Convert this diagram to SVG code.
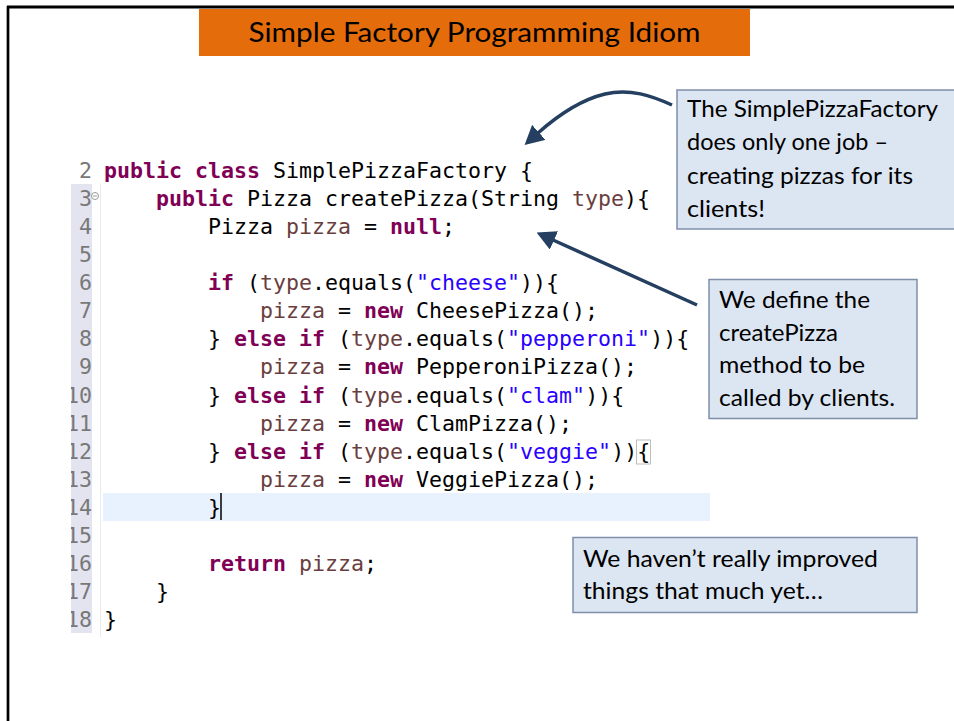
<svg xmlns="http://www.w3.org/2000/svg" width="954" height="721" viewBox="0 0 954 721">
<style>
.code{font-family:"DejaVu Sans Mono","Liberation Mono",monospace;font-size:21.6px;fill:#000}
.k{font-weight:bold;fill:#7F0055}
.v{fill:#6A3E3E}
.s{fill:#2A00FF}
.ln{font-family:"DejaVu Sans Mono","Liberation Mono",monospace;font-size:21.6px;fill:#787878;text-anchor:end}
.note rect{fill:#DCE6F2;stroke:#7F8FA9;stroke-width:1.5}
.note text{font-family:Lato,"Open Sans",sans-serif;font-size:24px;fill:#000}
.conn{fill:none;stroke:#243F60;stroke-width:3.5}
</style>
<defs>
<marker id="head" viewBox="0 0 19 20" refX="1" refY="10" markerWidth="19" markerHeight="20" markerUnits="userSpaceOnUse" orient="auto">
<path d="M0,0 L19,10 L0,20 Z" fill="#243F60"/>
</marker>
<clipPath id="gutterClip"><rect x="71" y="0" width="40" height="721"/></clipPath>
</defs>
<rect x="0" y="0" width="954" height="721" fill="#fff"/>
<g id="frame">
<line x1="7" y1="7" x2="954" y2="7" stroke="#000" stroke-width="3"/>
<line x1="8" y1="6" x2="8" y2="721" stroke="#000" stroke-width="2.7"/>
</g>
<g id="title">
<rect x="199" y="9" width="551" height="47" fill="#E46C0A"/>
<text x="474.5" y="42" text-anchor="middle" font-family="Lato,'Open Sans',sans-serif" font-size="27" fill="#000" textLength="452" lengthAdjust="spacingAndGlyphs">Simple Factory Programming Idiom</text>
</g>
<g id="editor">
<rect x="71" y="184" width="21" height="449" fill="#E4E4F0"/>
<line x1="100.5" y1="184" x2="100.5" y2="637" stroke="#EBEBEB" stroke-width="1"/>
<rect x="103" y="493" width="607" height="28" fill="#E8F2FE"/>
<circle cx="95" cy="196" r="3.5" fill="#fff" stroke="#9A9A9A" stroke-width="1"/>
<line x1="93" y1="196" x2="97" y2="196" stroke="#9A9A9A" stroke-width="1"/>
<rect x="636.5" y="440" width="14" height="24" fill="none" stroke="#BDBDBD" stroke-width="1"/>
<line x1="221" y1="493" x2="221" y2="520" stroke="#000" stroke-width="1.5"/>
<g clip-path="url(#gutterClip)">
<text class="ln" x="92" y="178">2</text>
<text class="ln" x="92" y="206">3</text>
<text class="ln" x="92" y="234">4</text>
<text class="ln" x="92" y="262">5</text>
<text class="ln" x="92" y="290">6</text>
<text class="ln" x="92" y="318">7</text>
<text class="ln" x="92" y="346">8</text>
<text class="ln" x="92" y="374">9</text>
<text class="ln" x="92" y="403">10</text>
<text class="ln" x="92" y="431">11</text>
<text class="ln" x="92" y="459">12</text>
<text class="ln" x="92" y="487">13</text>
<text class="ln" x="92" y="515">14</text>
<text class="ln" x="92" y="543">15</text>
<text class="ln" x="92" y="571">16</text>
<text class="ln" x="92" y="599">17</text>
<text class="ln" x="92" y="627">18</text>
</g>
<text class="code" x="104" y="178"><tspan class="k">public</tspan> <tspan class="k">class</tspan> SimplePizzaFactory {</text>
<text class="code" x="156" y="206"><tspan class="k">public</tspan> Pizza createPizza(String <tspan class="v">type</tspan>){</text>
<text class="code" x="208" y="234">Pizza <tspan class="v">pizza</tspan> = <tspan class="k">null</tspan>;</text>
<text class="code" x="208" y="290"><tspan class="k">if</tspan> (<tspan class="v">type</tspan>.equals(<tspan class="s">"cheese"</tspan>)){</text>
<text class="code" x="260" y="318"><tspan class="v">pizza</tspan> = <tspan class="k">new</tspan> CheesePizza();</text>
<text class="code" x="208" y="346">} <tspan class="k">else</tspan> <tspan class="k">if</tspan> (<tspan class="v">type</tspan>.equals(<tspan class="s">"pepperoni"</tspan>)){</text>
<text class="code" x="260" y="374"><tspan class="v">pizza</tspan> = <tspan class="k">new</tspan> PepperoniPizza();</text>
<text class="code" x="208" y="403">} <tspan class="k">else</tspan> <tspan class="k">if</tspan> (<tspan class="v">type</tspan>.equals(<tspan class="s">"clam"</tspan>)){</text>
<text class="code" x="260" y="431"><tspan class="v">pizza</tspan> = <tspan class="k">new</tspan> ClamPizza();</text>
<text class="code" x="208" y="459">} <tspan class="k">else</tspan> <tspan class="k">if</tspan> (<tspan class="v">type</tspan>.equals(<tspan class="s">"veggie"</tspan>)){</text>
<text class="code" x="260" y="487"><tspan class="v">pizza</tspan> = <tspan class="k">new</tspan> VeggiePizza();</text>
<text class="code" x="208" y="515">}</text>
<text class="code" x="208" y="571"><tspan class="k">return</tspan> <tspan class="v">pizza</tspan>;</text>
<text class="code" x="156" y="599">}</text>
<text class="code" x="104" y="627">}</text>
</g>
<g id="connectors">
<path class="conn" d="M672,105 C652,96 630,88 605,94 C580,100 556,117 538,133" marker-end="url(#head)"/>
<path class="conn" d="M697,305 L553,240" marker-end="url(#head)"/>
</g>
<g id="note1" class="note">
<rect x="677" y="90" width="285" height="139"/>
<text x="687" y="117" textLength="251" lengthAdjust="spacingAndGlyphs">The SimplePizzaFactory</text>
<text x="687" y="150" textLength="201" lengthAdjust="spacingAndGlyphs">does only one job –</text>
<text x="687" y="183.5" textLength="226" lengthAdjust="spacingAndGlyphs">creating pizzas for its</text>
<text x="687" y="216.5" textLength="78" lengthAdjust="spacingAndGlyphs">clients!</text>
</g>
<g id="note2" class="note">
<rect x="709" y="279.5" width="208" height="139"/>
<text x="719" y="308" textLength="151" lengthAdjust="spacingAndGlyphs">We define the</text>
<text x="719" y="340.5" textLength="119" lengthAdjust="spacingAndGlyphs">createPizza</text>
<text x="719" y="373" textLength="146" lengthAdjust="spacingAndGlyphs">method to be</text>
<text x="719" y="405.5" textLength="176" lengthAdjust="spacingAndGlyphs">called by clients.</text>
</g>
<g id="note3" class="note">
<rect x="573" y="537.5" width="344" height="75"/>
<text x="583" y="566.5" textLength="295" lengthAdjust="spacingAndGlyphs">We haven’t really improved</text>
<text x="583" y="598.5" textLength="240" lengthAdjust="spacingAndGlyphs">things that much yet…</text>
</g>
</svg>
